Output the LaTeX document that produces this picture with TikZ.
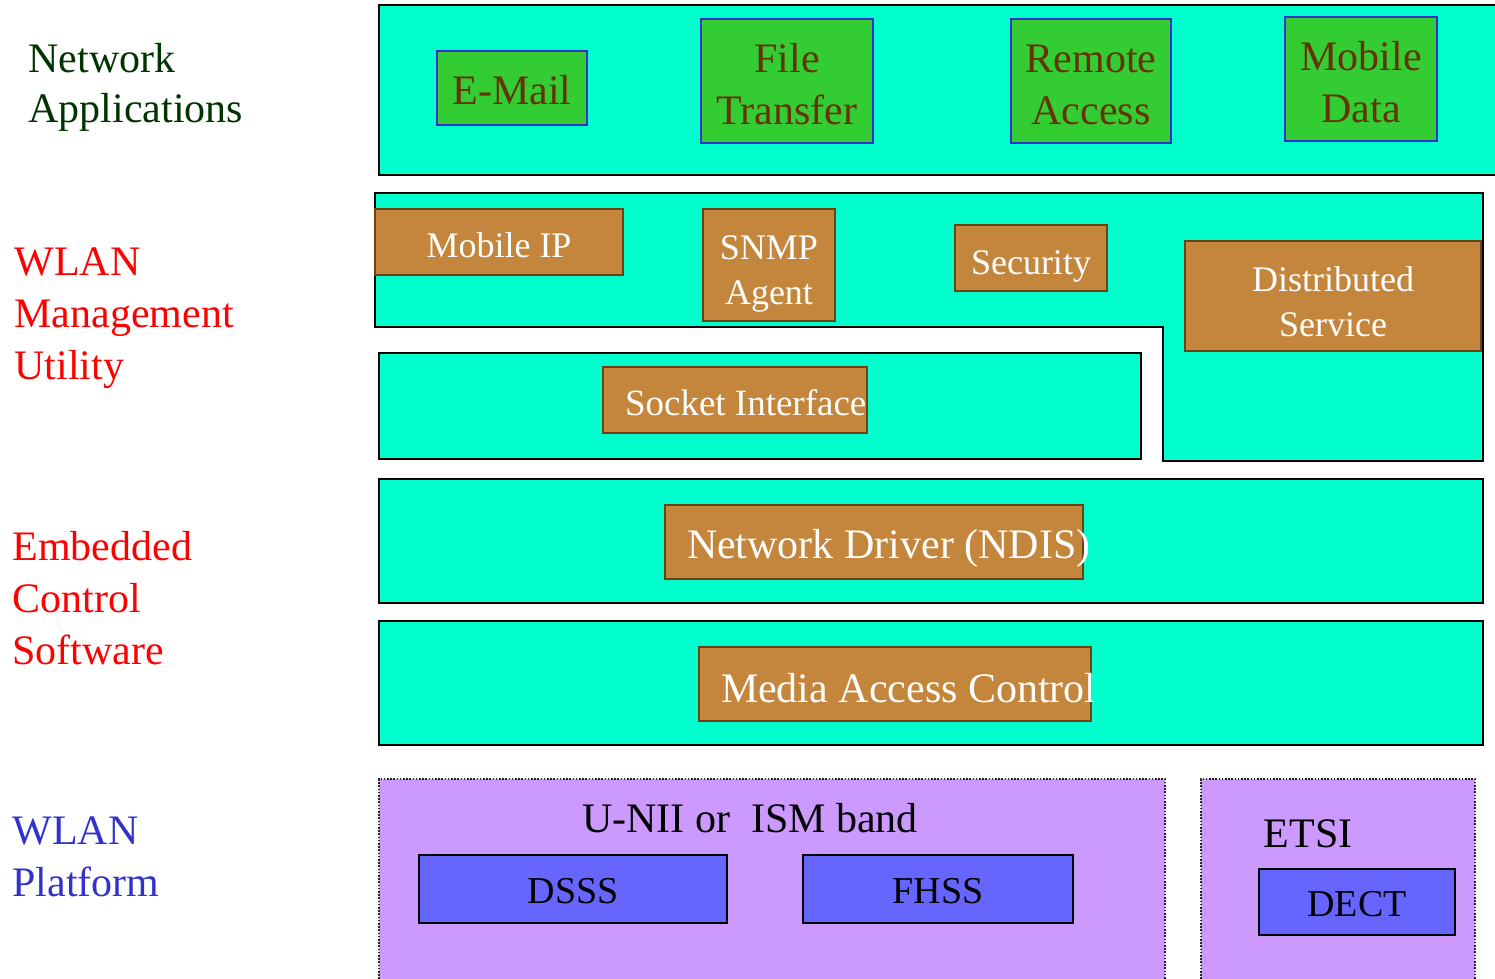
\documentclass[tikz,border=0pt]{standalone}
\usepackage{fontspec}
\setmainfont{Liberation Serif}
\usepackage{tikz}
\usetikzlibrary{positioning}

\definecolor{layercyan}{HTML}{00FFCC}
\definecolor{appgreen}{HTML}{33CC33}
\definecolor{mgmtbrown}{HTML}{C4863C}
\definecolor{edgebrown}{HTML}{6B4214}
\definecolor{phypurple}{HTML}{CC99FF}
\definecolor{phyblue}{HTML}{6666FF}
\definecolor{edgeblue}{HTML}{3333CC}
\definecolor{textbrown}{HTML}{663300}
\definecolor{labelgreen}{HTML}{003300}

\begin{document}
\begin{tikzpicture}
    [x=0.5pt, y=-0.5pt,
    layernode/.style={rectangle, draw=black, line width=0.8pt, fill=layercyan, inner sep=0pt},
    appnode/.style={rectangle, draw=edgeblue, line width=0.8pt, fill=appgreen, text=textbrown, inner sep=0pt, align=center, font=\fontsize{21}{26}\selectfont},
    mgmtnode/.style={rectangle, draw=edgebrown, line width=0.7pt, fill=mgmtbrown, text=white, inner sep=0pt, align=center, font=\fontsize{18}{22.5}\selectfont},
    oneline/.style={text height=#1, text depth=0pt},
    shifted/.style={text width=#1, align=flush left},
    phynode/.style={rectangle, draw=black!85, dash pattern=on 0.8pt off 0.8pt, line width=0.9pt, fill=phypurple, inner sep=0pt},
    bandnode/.style={rectangle, draw=black, line width=0.8pt, fill=phyblue, inner sep=0pt, oneline=14.5pt, font=\fontsize{19}{22}\selectfont},
    sidelabel/.style={anchor=west, align=left, inner sep=0pt, font=\fontsize{21}{26}\selectfont},]

    \useasboundingbox (0,0) rectangle (1495,979);

    %Layers
    \node[layernode, minimum width=559pt, minimum height=85pt](apps) at (938,90){};
    \draw[fill=layercyan, line width=0.8pt]
        (375,193) -- (1483,193) -- (1483,461) -- (1163,461) -- (1163,327) -- (375,327) -- cycle;
    \node[layernode, minimum width=381pt, minimum height=53pt](socket) at (760,406){};
    \node[layernode, minimum width=552pt, minimum height=62pt](ndis) at (931,541){};
    \node[layernode, minimum width=552pt, minimum height=62pt](mac) at (931,683){};
    \node[phynode, minimum width=393pt, minimum height=102pt](unii) at (772,881){};
    \node[phynode, minimum width=137pt, minimum height=102pt](etsi) at (1338,881){};

    %Applications
    \node[appnode, oneline=16.5pt, minimum width=75pt, minimum height=37pt](email) at (512,88){E-Mail};
    \node[appnode, oneline=44pt, minimum width=86pt, minimum height=62pt](filetransfer) at (787,81){File\\Transfer};
    \node[appnode, oneline=44pt, minimum width=80pt, minimum height=62pt](remoteaccess) at (1091,81){Remote\\Access};
    \node[appnode, oneline=43.5pt, minimum width=76pt, minimum height=62pt](mobiledata) at (1361,79){Mobile\\Data};

    %Management
    \node[mgmtnode, oneline=15pt, minimum width=124pt, minimum height=33pt](mobileip) at (499,242){Mobile IP};
    \node[mgmtnode, oneline=39pt, minimum width=66pt, minimum height=56pt](snmp) at (769,265){SNMP\\Agent};
    \node[mgmtnode, oneline=16pt, minimum width=76pt, minimum height=33pt](security) at (1031,258){Security};
    \node[mgmtnode, oneline=40pt, minimum width=148pt, minimum height=55pt](distributed) at (1333,296){Distributed\\Service};
    \node[mgmtnode, oneline=15pt, shifted=132pt, minimum height=33pt, font=\fontsize{18.5}{22}\selectfont](socketif) at (735,400){\hspace*{11pt}\mbox{Socket Interface}};
    \node[mgmtnode, oneline=16pt, shifted=209pt, minimum height=37pt, font=\fontsize{21}{25}\selectfont](driver) at (874,542){\hspace*{11pt}\mbox{Network Driver (NDIS)}};
    \node[mgmtnode, oneline=18pt, shifted=196pt, minimum height=37pt, font=\fontsize{21}{25}\selectfont](macif) at (895,684){\hspace*{11pt}\mbox{Media Access Control}};

    %Platform
    \node[font=\fontsize{21}{25}\selectfont](uniilabel) at (750,818){U-NII or\ \ ISM band};
    \node[bandnode, minimum width=154pt, minimum height=34pt](dsss) at (573,889){DSSS};
    \node[bandnode, minimum width=135pt, minimum height=34pt](fhss) at (938,889){FHSS};
    \node[font=\fontsize{21}{25}\selectfont](etsilabel) at (1308,834){ETSI};
    \node[bandnode, minimum width=98pt, minimum height=33pt](dect) at (1357,902){DECT};

    %Labels
    \node[sidelabel, text=labelgreen, font=\fontsize{21}{25}\selectfont](applabel) at (28,87){Network\\Applications};
    \node[sidelabel, text=red](mgmtlabel) at (14,318){WLAN\\Management\\Utility};
    \node[sidelabel, text=red](ecslabel) at (12,598){Embedded\\Control\\Software};
    \node[sidelabel, text=edgeblue](platlabel) at (12,857){WLAN\\Platform};

\end{tikzpicture}
\end{document}
